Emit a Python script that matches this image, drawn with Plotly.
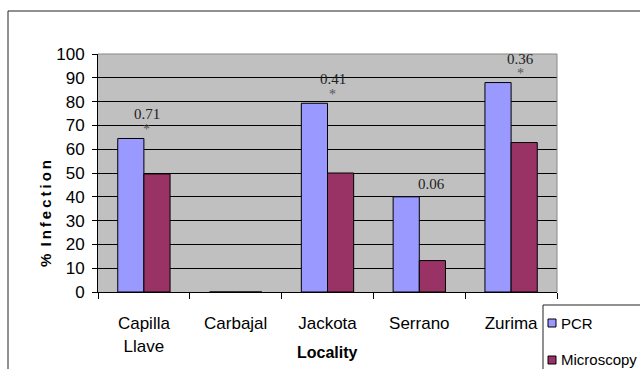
import plotly.graph_objects as go

# Infection rates by locality, PCR vs microscopy
localities = ["Capilla Llave", "Carbajal", "Jackota", "Serrano", "Zurima"]
tick_labels = ["Capilla<br>Llave", "Carbajal", "Jackota", "Serrano", "Zurima"]
pcr = [64.5, 0, 79.3, 40, 88]
microscopy = [49.6, 0, 50, 13.2, 62.8]

# p-values shown above the PCR bars (None = no label); star marks significance
p_values = ["0.71", None, "0.41", "0.06", "0.36"]
starred = [True, False, True, False, True]

PCR_COLOR = "#9999FF"
MIC_COLOR = "#993366"
SANS = "Liberation Sans, Arial, sans-serif"
SERIF = "Liberation Serif"

W, H = 640, 369
L, R, T, B = 98, 83, 54, 77
PW, PH = W - L - R, H - T - B


def px(x):
    return (x - L) / PW


def py(y):
    return (H - B - y) / PH


fig = go.Figure()
fig.add_trace(go.Bar(x=localities, y=pcr, name="PCR",
                     marker=dict(color=PCR_COLOR, line=dict(color="black", width=1))))
fig.add_trace(go.Bar(x=localities, y=microscopy, name="Microscopy",
                     marker=dict(color=MIC_COLOR, line=dict(color="black", width=1))))

annotations = []
label_xshift = [3, 0, 5, 12, 9]
for i, (loc, val, p, star) in enumerate(zip(localities, pcr, p_values, starred)):
    if p is None:
        continue
    if star:
        annotations.append(dict(x=loc, y=val, xref="x", yref="y", text="*",
                                showarrow=False, xshift=label_xshift[i], yshift=9,
                                xanchor="center", yanchor="middle",
                                font=dict(family=SERIF, size=14, color="#555555")))
        annotations.append(dict(x=loc, y=val, xref="x", yref="y", text=p,
                                showarrow=False, xshift=label_xshift[i], yshift=24,
                                xanchor="center", yanchor="middle",
                                font=dict(family=SERIF, size=15, color="#222222")))
    else:
        annotations.append(dict(x=loc, y=val, xref="x", yref="y", text=p,
                                showarrow=False, xshift=label_xshift[i], yshift=13,
                                xanchor="center", yanchor="middle",
                                font=dict(family=SERIF, size=15, color="#222222")))

# axis titles
annotations.append(dict(x=px(327), y=py(352), xref="paper", yref="paper", text="<b>Locality</b>",
                        xanchor="center", yanchor="middle", showarrow=False,
                        font=dict(family=SANS, size=16, color="black")))
annotations.append(dict(x=px(45), y=py(214), xref="paper", yref="paper",
                        text="<b>%\u2009 I\u2009n\u2009f\u2009e\u2009c\u2009t\u2009i\u2009o\u2009n</b>",
                        textangle=-90, xanchor="center", yanchor="middle", showarrow=False,
                        font=dict(family=SANS, size=15, color="black")))

# legend entries
annotations.append(dict(x=px(559), y=py(323), xref="paper", yref="paper", text="PCR",
                        xanchor="left", yanchor="middle", showarrow=False,
                        font=dict(family=SANS, size=15, color="black")))
annotations.append(dict(x=px(559), y=py(359), xref="paper", yref="paper", text="Microscopy",
                        xanchor="left", yanchor="middle", showarrow=False,
                        font=dict(family=SANS, size=15, color="black")))

shapes = [
    # outer chart frame
    dict(type="rect", xref="paper", yref="paper", x0=px(8), x1=px(700), y0=py(400), y1=py(11),
         line=dict(color="#222222", width=1), layer="below"),
    # plot frame top and right
    dict(type="line", xref="paper", yref="paper", x0=0, x1=1, y0=1, y1=1,
         line=dict(color="#888888", width=1)),
    dict(type="line", xref="paper", yref="paper", x0=1, x1=1, y0=0, y1=1,
         line=dict(color="#888888", width=1)),
    # legend box and keys
    dict(type="rect", xref="paper", yref="paper", x0=px(543), x1=px(700), y0=py(400), y1=py(305),
         line=dict(color="#222222", width=1), fillcolor="white"),
    dict(type="rect", xref="paper", yref="paper", x0=px(548), x1=px(556), y0=py(327), y1=py(319),
         line=dict(color="black", width=1), fillcolor=PCR_COLOR),
    dict(type="rect", xref="paper", yref="paper", x0=px(548), x1=px(556), y0=py(364), y1=py(356),
         line=dict(color="black", width=1), fillcolor=MIC_COLOR),
]

fig.update_layout(
    width=W, height=H,
    margin=dict(l=L, r=R, t=T, b=B, autoexpand=False),
    paper_bgcolor="white",
    plot_bgcolor="#C0C0C0",
    barmode="group",
    bargap=0.43,
    bargroupgap=0,
    showlegend=False,
    font=dict(family=SANS, size=17, color="black"),
    annotations=annotations,
    shapes=shapes,
    xaxis=dict(
        tickmode="array", tickvals=localities, ticktext=tick_labels,
        tickson="boundaries", ticks="outside", ticklen=6, tickcolor="black",
        showline=True, linecolor="black", linewidth=1, showgrid=False,
        tickfont=dict(family=SANS, size=17), ticklabelstandoff=16,
    ),
    yaxis=dict(
        range=[0, 100], dtick=10, ticks="outside", ticklen=5, tickcolor="black",
        showline=True, linecolor="black", linewidth=1,
        showgrid=True, gridcolor="black", gridwidth=1, zeroline=False,
        tickfont=dict(family=SANS, size=17), ticklabelstandoff=4,
    ),
)

fig.write_html("out.html")
